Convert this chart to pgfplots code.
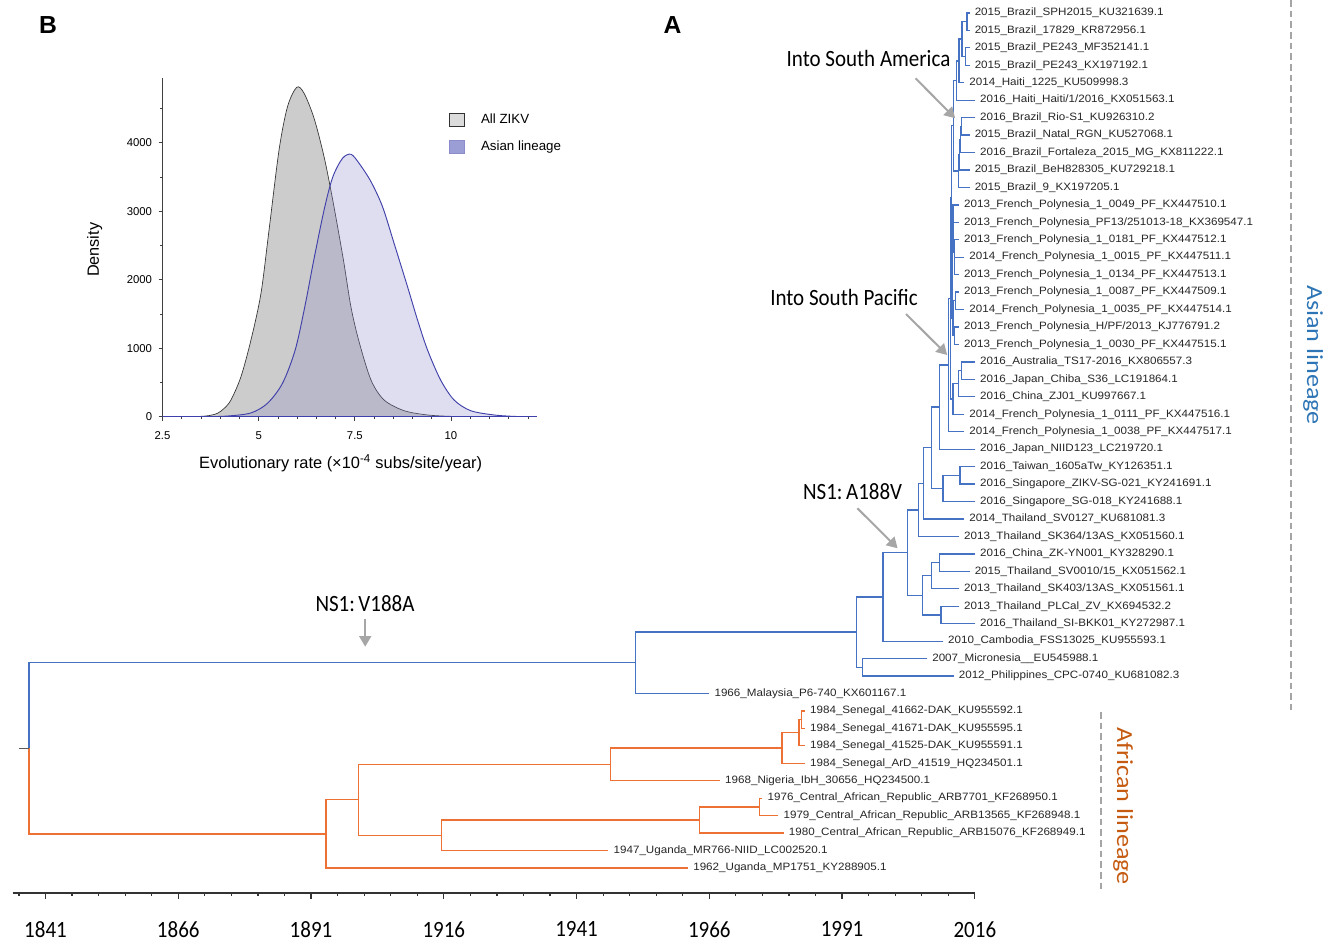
\documentclass[border=0pt]{standalone}
\usepackage{fontspec}
\setmainfont{Liberation Sans}
\newfontfamily\carlito{Carlito}
\usepackage{pgfplots}
\pgfplotsset{compat=1.18}
\usetikzlibrary{arrows.meta}

\definecolor{asian}{RGB}{70,114,196}
\definecolor{african}{RGB}{237,112,52}
\definecolor{asiantext}{RGB}{46,117,182}
\definecolor{africantext}{RGB}{197,90,17}
\definecolor{arrowgrey}{RGB}{166,166,166}
\definecolor{dashgrey}{RGB}{165,165,165}
\definecolor{allfill}{RGB}{204,204,204}
\definecolor{allline}{RGB}{50,50,50}
\definecolor{asianfill}{RGB}{135,135,200}
\definecolor{asianline}{RGB}{64,64,170}
\definecolor{asianleg}{RGB}{155,158,212}

\protected\def\us{\textunderscore}

\begin{document}
\begin{tikzpicture}[x=0.75pt,y=0.75pt]
\useasboundingbox (0,0) rectangle (1337,941);

% ---------- A: time-scaled tree ----------
\begin{axis}[
  at={(9.43pt,36pt)}, anchor=south west,
  scale only axis, width=721.7pt, height=666.6pt,
  xmin=1834.8, xmax=2016, ymin=-51.433, ymax=-0.5,
  axis x line*=bottom, axis y line=none, ytick=\empty,
  x axis line style={line width=1.1pt, color=black!80, -},
  xtick={1841,1866,...,2016},
  minor xtick={1836,1841,...,2011},
  tick align=outside, major tick length=4.5pt, minor tick length=2.3pt,
  tick style={line width=0.9pt, color=black!80},
  xticklabel style={font=\carlito\fontsize{17.5}{21}\selectfont, xscale=0.9, yshift=-13.3pt},
  /pgf/number format/1000 sep={}, /pgf/number format/assume math mode=true,
  clip=false, unbounded coords=jump,
]
% Asian lineage branches (one bracket per internal node)
\addplot[asian, line width=0.95pt] coordinates {
(2015,-1) (2014.5,-1) (2014.5,-2) (2015,-2) (nan,nan)
(2015,-3) (2014.3,-3) (2014.3,-4) (2015,-4) (nan,nan)
(2014.5,-1.5) (2013.6,-1.5) (2013.6,-3.5) (2014.3,-3.5) (nan,nan)
(2013.6,-2.5) (2013.0,-2.5) (2013.0,-5) (2014,-5) (nan,nan)
(2013.0,-3.75) (2012.6,-3.75) (2012.6,-6) (2016,-6) (nan,nan)
(2016,-7) (2013.5,-7) (2013.5,-8) (2015,-8) (nan,nan)
(2013.5,-7.5) (2013.3,-7.5) (2013.3,-9) (2016,-9) (nan,nan)
(2013.3,-8.25) (2013.1,-8.25) (2013.1,-10) (2015,-10) (nan,nan)
(2013.1,-9.125) (2012.9,-9.125) (2012.9,-11) (2015,-11) (nan,nan)
(2012.6,-4.875) (2012.0,-4.875) (2012.0,-10.063) (2012.9,-10.063) (nan,nan)
(2014,-15) (2012.2,-15) (2012.2,-16) (2013,-16) (nan,nan)
(2013,-14) (2012.1,-14) (2012.1,-15.5) (2012.2,-15.5) (nan,nan)
(2013,-13) (2012.0,-13) (2012.0,-14.75) (2012.1,-14.75) (nan,nan)
(2013,-12) (2011.9,-12) (2011.9,-13.875) (2012.0,-13.875) (nan,nan)
(2013,-17) (2012.3,-17) (2012.3,-18) (2014,-18) (nan,nan)
(2013,-19) (2012.2,-19) (2012.2,-20) (2013,-20) (nan,nan)
(2012.3,-17.5) (2011.9,-17.5) (2011.9,-19.5) (2012.2,-19.5) (nan,nan)
(2011.9,-12.938) (2011.7,-12.938) (2011.7,-18.5) (2011.9,-18.5) (nan,nan)
(2012.0,-7.469) (2011.6,-7.469) (2011.6,-15.719) (2011.7,-15.719) (nan,nan)
(2016,-21) (2013.5,-21) (2013.5,-22) (2016,-22) (nan,nan)
(2013.5,-21.5) (2012.9,-21.5) (2012.9,-23) (2016,-23) (nan,nan)
(2012.9,-22.25) (2011.9,-22.25) (2011.9,-24) (2014,-24) (nan,nan)
(2011.6,-11.594) (2011.4,-11.594) (2011.4,-23.125) (2011.9,-23.125) (nan,nan)
(2011.4,-17.359) (2011.1,-17.359) (2011.1,-25) (2014,-25) (nan,nan)
(2011.1,-21.180) (2009.3,-21.180) (2009.3,-26) (2016,-26) (nan,nan)
(2016,-27) (2013.2,-27) (2013.2,-28) (2016,-28) (nan,nan)
(2013.2,-27.5) (2010.0,-27.5) (2010.0,-29) (2016,-29) (nan,nan)
(2009.3,-23.590) (2007.9,-23.590) (2007.9,-28.25) (2010.0,-28.25) (nan,nan)
(2007.9,-25.920) (2006.3,-25.920) (2006.3,-30) (2014,-30) (nan,nan)
(2006.3,-27.960) (2005.4,-27.960) (2005.4,-31) (2013,-31) (nan,nan)
(2016,-32) (2009.4,-32) (2009.4,-33) (2015,-33) (nan,nan)
(2009.4,-32.5) (2007.9,-32.5) (2007.9,-34) (2013,-34) (nan,nan)
(2013,-35) (2009.6,-35) (2009.6,-36) (2016,-36) (nan,nan)
(2007.9,-33.25) (2006.2,-33.25) (2006.2,-35.5) (2009.6,-35.5) (nan,nan)
(2005.4,-29.480) (2003.3,-29.480) (2003.3,-34.375) (2006.2,-34.375) (nan,nan)
(2003.3,-31.927) (1998.7,-31.927) (1998.7,-37) (2010,-37) (nan,nan)
(2007,-38) (1994.9,-38) (1994.9,-39) (2012,-39) (nan,nan)
(1998.7,-34.464) (1993.7,-34.464) (1993.7,-38.5) (1994.9,-38.5) (nan,nan)
(1993.7,-36.482) (1952.1,-36.482) (1952.1,-40) (1966,-40) (nan,nan)
(1952.1,-38.241) (1837.9,-38.241) (1837.9,-43.144)
};
% African lineage branches
\addplot[african, line width=0.95pt] coordinates {
(1984,-41) (1983.4,-41) (1983.4,-42) (1984,-42) (nan,nan)
(1983.4,-41.5) (1982.9,-41.5) (1982.9,-43) (1984,-43) (nan,nan)
(1982.9,-42.25) (1979.7,-42.25) (1979.7,-44) (1984,-44) (nan,nan)
(1979.7,-43.125) (1947.4,-43.125) (1947.4,-45) (1968,-45) (nan,nan)
(1976,-46) (1975.5,-46) (1975.5,-47) (1979,-47) (nan,nan)
(1975.5,-46.5) (1964.1,-46.5) (1964.1,-48) (1980,-48) (nan,nan)
(1964.1,-47.25) (1915.5,-47.25) (1915.5,-49) (1947,-49) (nan,nan)
(1947.4,-44.063) (1899.9,-44.063) (1899.9,-48.125) (1915.5,-48.125) (nan,nan)
(1899.9,-46.094) (1893.8,-46.094) (1893.8,-50) (1962,-50) (nan,nan)
(1837.9,-43.144) (1837.9,-48.047) (1893.8,-48.047)
};
% root stub
\addplot[black!65, line width=0.95pt] coordinates {(1835.95,-43.144) (1837.9,-43.144)};
% tip labels
\addplot[draw=none, mark=none, point meta=explicit symbolic,
  nodes near coords={\pgfplotspointmeta}, nodes near coords align={anchor=west},
  every node near coord/.append style={font=\fontsize{8}{9}\selectfont, xscale=1.09,
    inner sep=0pt, xshift=3.4pt, text=black!85}]
coordinates {
(2015,-1) [2015\us Brazil\us SPH2015\us KU321639.1]
(2015,-2) [2015\us Brazil\us 17829\us KR872956.1]
(2015,-3) [2015\us Brazil\us PE243\us MF352141.1]
(2015,-4) [2015\us Brazil\us PE243\us KX197192.1]
(2014,-5) [2014\us Haiti\us 1225\us KU509998.3]
(2016,-6) [2016\us Haiti\us Haiti/1/2016\us KX051563.1]
(2016,-7) [2016\us Brazil\us Rio-S1\us KU926310.2]
(2015,-8) [2015\us Brazil\us Natal\us RGN\us KU527068.1]
(2016,-9) [2016\us Brazil\us Fortaleza\us 2015\us MG\us KX811222.1]
(2015,-10) [2015\us Brazil\us BeH828305\us KU729218.1]
(2015,-11) [2015\us Brazil\us 9\us KX197205.1]
(2013,-12) [2013\us French\us Polynesia\us 1\us 0049\us PF\us KX447510.1]
(2013,-13) [2013\us French\us Polynesia\us PF13/251013-18\us KX369547.1]
(2013,-14) [2013\us French\us Polynesia\us 1\us 0181\us PF\us KX447512.1]
(2014,-15) [2014\us French\us Polynesia\us 1\us 0015\us PF\us KX447511.1]
(2013,-16) [2013\us French\us Polynesia\us 1\us 0134\us PF\us KX447513.1]
(2013,-17) [2013\us French\us Polynesia\us 1\us 0087\us PF\us KX447509.1]
(2014,-18) [2014\us French\us Polynesia\us 1\us 0035\us PF\us KX447514.1]
(2013,-19) [2013\us French\us Polynesia\us H/PF/2013\us KJ776791.2]
(2013,-20) [2013\us French\us Polynesia\us 1\us 0030\us PF\us KX447515.1]
(2016,-21) [2016\us Australia\us TS17-2016\us KX806557.3]
(2016,-22) [2016\us Japan\us Chiba\us S36\us LC191864.1]
(2016,-23) [2016\us China\us ZJ01\us KU997667.1]
(2014,-24) [2014\us French\us Polynesia\us 1\us 0111\us PF\us KX447516.1]
(2014,-25) [2014\us French\us Polynesia\us 1\us 0038\us PF\us KX447517.1]
(2016,-26) [2016\us Japan\us NIID123\us LC219720.1]
(2016,-27) [2016\us Taiwan\us 1605aTw\us KY126351.1]
(2016,-28) [2016\us Singapore\us ZIKV-SG-021\us KY241691.1]
(2016,-29) [2016\us Singapore\us SG-018\us KY241688.1]
(2014,-30) [2014\us Thailand\us SV0127\us KU681081.3]
(2013,-31) [2013\us Thailand\us SK364/13AS\us KX051560.1]
(2016,-32) [2016\us China\us ZK-YN001\us KY328290.1]
(2015,-33) [2015\us Thailand\us SV0010/15\us KX051562.1]
(2013,-34) [2013\us Thailand\us SK403/13AS\us KX051561.1]
(2013,-35) [2013\us Thailand\us PLCal\us ZV\us KX694532.2]
(2016,-36) [2016\us Thailand\us SI-BKK01\us KY272987.1]
(2010,-37) [2010\us Cambodia\us FSS13025\us KU955593.1]
(2007,-38) [2007\us Micronesia\us\us EU545988.1]
(2012,-39) [2012\us Philippines\us CPC-0740\us KU681082.3]
(1966,-40) [1966\us Malaysia\us P6-740\us KX601167.1]
(1984,-41) [1984\us Senegal\us 41662-DAK\us KU955592.1]
(1984,-42) [1984\us Senegal\us 41671-DAK\us KU955595.1]
(1984,-43) [1984\us Senegal\us 41525-DAK\us KU955591.1]
(1984,-44) [1984\us Senegal\us ArD\us 41519\us HQ234501.1]
(1968,-45) [1968\us Nigeria\us IbH\us 30656\us HQ234500.1]
(1976,-46) [1976\us Central\us African\us Republic\us ARB7701\us KF268950.1]
(1979,-47) [1979\us Central\us African\us Republic\us ARB13565\us KF268948.1]
(1980,-48) [1980\us Central\us African\us Republic\us ARB15076\us KF268949.1]
(1947,-49) [1947\us Uganda\us MR766-NIID\us LC002520.1]
(1962,-50) [1962\us Uganda\us MP1751\us KY288905.1]
};
\end{axis}

% ---------- B: rate densities ----------
\begin{axis}[
  at={(121.875pt,393.225pt)}, anchor=south west,
  scale only axis, width=280.7pt, height=254.3pt,
  xmin=2.5, xmax=12.23, ymin=0, ymax=4950,
  axis x line*=bottom, axis y line*=left,
  axis line style={line width=0.6pt, color=black!75, -},
  xtick={2.5,5,7.5,10}, minor xtick={3,3.5,...,12},
  ytick={0,1000,2000,3000,4000}, minor ytick={500,1500,2500,3500,4500},
  tick align=outside, major tick length=3pt, minor tick length=2pt,
  tick style={line width=0.5pt, color=black!75},
  ticklabel style={font=\fontsize{8.5}{10}\selectfont},
  xticklabel style={yshift=-4.5pt},
  yticklabel style={xshift=-1.3pt},
  /pgf/number format/1000 sep={}, /pgf/number format/assume math mode=true,
  xlabel={Evolutionary rate (×10\textsuperscript{-4} subs/site/year)},
  ylabel={Density},
  every axis x label/.style={at={(axis description cs:0.476,-0.137)}, anchor=center, font=\fontsize{12.3}{14}\selectfont},
  every axis y label/.style={at={(axis description cs:-0.181,0.492)}, anchor=center, rotate=90, font=\fontsize{12.2}{14}\selectfont},
  legend cell align=left,
  legend style={at={(axis description cs:0.765,0.896)}, anchor=north west, draw=none, fill=none,
    inner sep=0pt, row sep=9.5pt, font=\fontsize{10}{12}\selectfont, nodes={inner sep=0pt},
    /tikz/every odd column/.append style={column sep=12pt}},
  legend image code/.code={\draw[#1, line width=0.7pt] (0pt,-4.9pt) rectangle (11.25pt,4.9pt);},
]
\addplot[forget plot, fill=allfill, draw=allline, line width=0.5pt, smooth] coordinates {
(2.5,0) (3.0,0) (3.4,3) (3.7,15) (3.93,50) (4.1,120) (4.28,244) (4.54,584) (4.80,1120)
(5.06,1800) (5.27,2726) (5.53,3894) (5.75,4526) (5.99,4809) (6.18,4722) (6.44,4357)
(6.70,3796) (6.93,3150) (7.20,2300) (7.40,1600) (7.61,1095) (7.92,536) (8.26,244)
(8.78,88) (9.39,25) (10.0,5) (10.5,0)
} \closedcycle;
\addplot[forget plot, fill=asianfill, fill opacity=0.275, draw=asianline, line width=0.7pt, smooth] coordinates {
(2.5,0) (3.6,0) (4.2,10) (4.8,55) (5.23,196) (5.62,488) (5.95,974) (6.2,1606) (6.45,2336)
(6.72,3066) (6.93,3504) (7.18,3772) (7.40,3831) (7.61,3700) (7.92,3431) (8.22,3066)
(8.52,2532) (8.87,1898) (9.13,1412) (9.39,974) (9.73,536) (10.08,244) (10.51,88)
(11.12,25) (11.7,3) (12.23,0)
} \closedcycle;
\addlegendimage{fill=allfill!70!white, draw=allline}
\addlegendentry{All ZIKV}
\addlegendimage{fill=asianleg, draw=asianline!60}
\addlegendentry{Asian lineage}
\end{axis}

% ---------- annotations ----------
\node[font=\bfseries\fontsize{18.5}{22}\selectfont, inner sep=0pt] at (48,916) {B};
\node[font=\bfseries\fontsize{18.5}{22}\selectfont, inner sep=0pt] at (672.5,915.5) {A};

\begin{scope}[every node/.style={font=\carlito\fontsize{17.5}{21}\selectfont, xscale=0.9, inner sep=0pt}]
\node at (868.5,882) {Into South America};
\node at (844,644) {Into South Pacific};
\node at (852.6,449) {NS1:\,A188V};
\node at (365,337) {NS1:\,V188A};
\end{scope}
\begin{scope}[arrowgrey, line width=1.5pt, -{Triangle[length=8pt,width=9pt]}]
\draw (915.5,862.7) -- (955.2,822.7);
\draw (906,627) -- (947.2,586);
\draw (857.4,432.7) -- (897.6,392.7);
\draw (365.2,321.7) -- (365.2,294.3);
\end{scope}

\draw[dashgrey, line width=1.1pt, dash pattern=on 5pt off 3pt] (1291,941) -- (1291,231);
\draw[dashgrey, line width=1.1pt, dash pattern=on 5pt off 3pt] (1101,229) -- (1101,51);
\node[asiantext, font=\carlito\fontsize{19.6}{23}\selectfont, rotate=-90, yscale=0.88, inner sep=0pt] at (1313,586) {Asian lineage};
\node[africantext, font=\carlito\fontsize{19.6}{23}\selectfont, rotate=-90, yscale=0.88, inner sep=0pt] at (1123,135) {African lineage};
\end{tikzpicture}
\end{document}
